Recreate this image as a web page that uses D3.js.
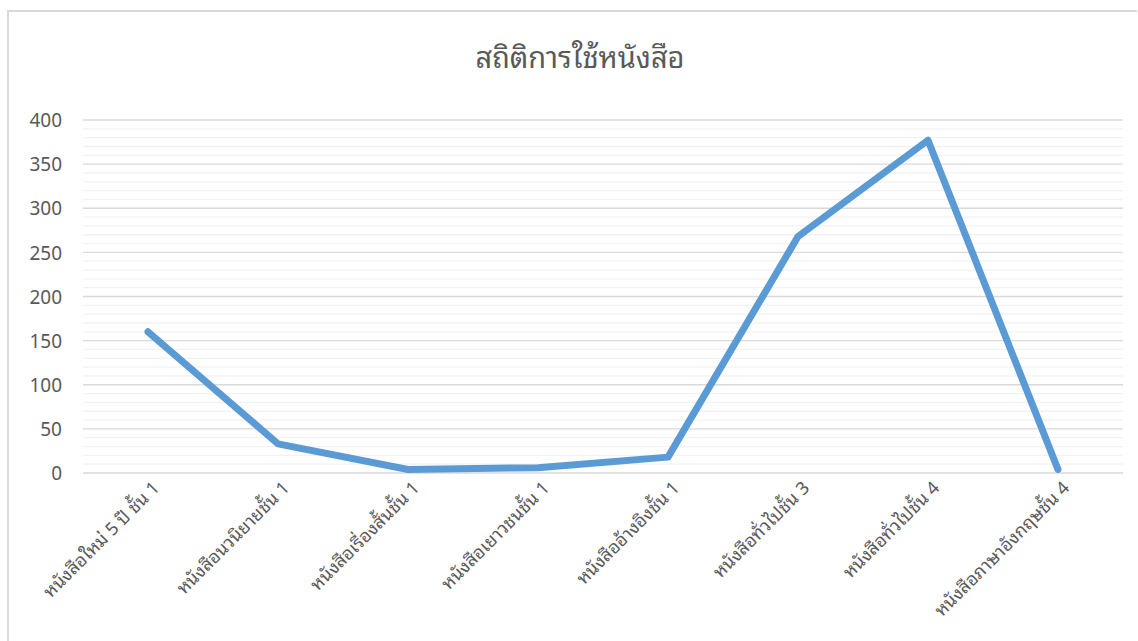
<!DOCTYPE html>
<html>
<head>
<meta charset="utf-8">
<script src="https://cdn.jsdelivr.net/npm/d3@7"></script>
<style>
body{margin:0;background:#fff;}
text{font-family:"Noto Sans Thai Looped","Noto Sans Thai","Noto Sans",sans-serif;}
</style>
</head>
<body>
<svg id="c" width="1138" height="641"></svg>
<script>
const title = "สถิติการใช้หนังสือ";
const categories = ["หนังสือใหม่ 5 ปี ชั้น 1","หนังสือนวนิยายชั้น 1","หนังสือเรื่องสั้นชั้น 1","หนังสือเยาวชนชั้น 1","หนังสืออ้างอิงชั้น 1","หนังสือทั่วไปชั้น 3","หนังสือทั่วไปชั้น 4","หนังสือภาษาอังกฤษชั้น 4"];
const values = [160, 33, 4, 6, 18, 268, 377, 4];
const yTicks = [0, 50, 100, 150, 200, 250, 300, 350, 400];
const minorTicks = d3.range(0, 401, 10);

const svg = d3.select("#c");
// frame
svg.append("path").attr("d","M8,641 L8,11 L1137,11").attr("fill","none").attr("stroke","#d9d9d9").attr("stroke-width",2);

const L=83, R=1123, T=120, B=473;
const x = d3.scalePoint().domain(categories).range([L,R]).padding(0.5);
const y = d3.scaleLinear().domain([0,400]).range([B,T]);

// minor gridlines
svg.append("g").selectAll("line").data(minorTicks.filter(d=>d%50!==0)).join("line")
  .attr("x1",L).attr("x2",R).attr("y1",d=>y(d)).attr("y2",d=>y(d))
  .attr("stroke","#f2f2f2").attr("stroke-width",1.3);
// major gridlines
svg.append("g").selectAll("line").data(yTicks).join("line")
  .attr("x1",L).attr("x2",R).attr("y1",d=>y(d)).attr("y2",d=>y(d))
  .attr("stroke","#d9d9d9").attr("stroke-width",1.3);

// y axis labels
const yAxis = d3.axisLeft(y).tickValues(yTicks).tickSize(0).tickPadding(0);
const gy = svg.append("g").attr("transform",`translate(62,0)`).call(yAxis);
gy.select(".domain").remove();
gy.selectAll("text").attr("font-size",19).attr("fill","#595959").attr("dy","0.35em");

// x labels
const xAxis = d3.axisBottom(x).tickSize(0).tickPadding(0);
const gx = svg.append("g").attr("transform",`translate(0,${B})`).call(xAxis);
gx.select(".domain").remove();
gx.selectAll("text")
  .attr("font-size",18).attr("fill","#595959")
  .attr("text-anchor","end").attr("dy",null).attr("y",0)
  .attr("transform","translate(12,16) rotate(-45)");

// line
const line = d3.line().x((d,i)=>x(categories[i])).y(d=>y(d));
svg.append("path").datum(values).attr("d",line)
  .attr("fill","none").attr("stroke","#5b9bd5").attr("stroke-width",7)
  .attr("stroke-linejoin","round").attr("stroke-linecap","round");

// title
svg.append("text").attr("x",580).attr("y",68).attr("text-anchor","middle")
  .attr("font-size",29).attr("fill","#595959").text(title);
</script>
</body>
</html>
